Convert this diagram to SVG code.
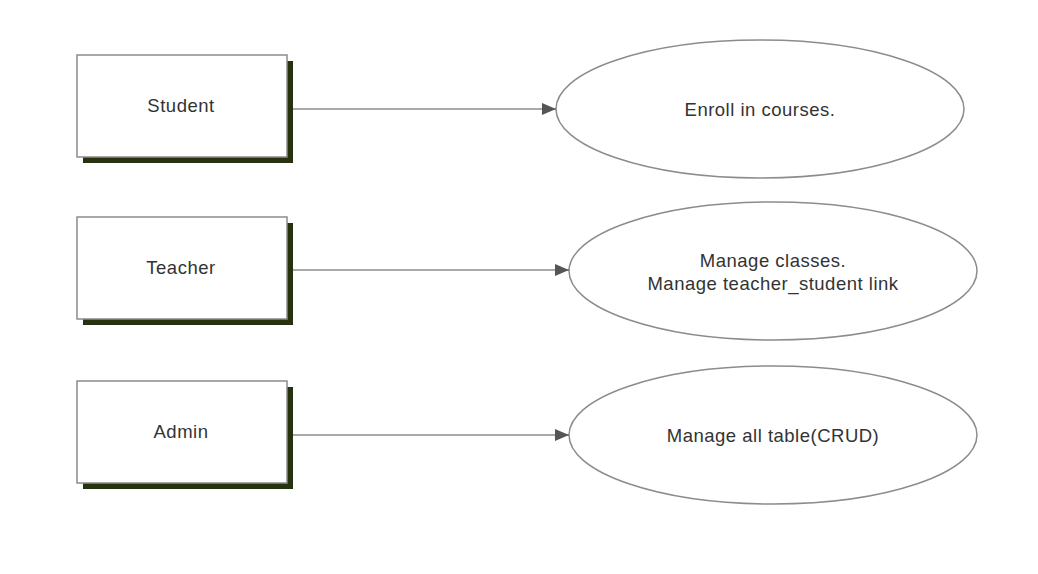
<svg xmlns="http://www.w3.org/2000/svg" width="1038" height="574" viewBox="0 0 1038 574">
<defs>
<style>
.shadow{fill:#263210;stroke:none}
.box{fill:#fff;stroke:#8c8c8c;stroke-width:1.5}
.ell{fill:#fff;stroke:#8c8c8c;stroke-width:1.5}
.lbl{font-family:"Liberation Sans",Arial,sans-serif;font-size:18.5px;letter-spacing:0.5px;fill:#333;text-anchor:middle}
.conn{stroke:#555;stroke-width:1.2;fill:none}
</style>
<marker id="arr" markerWidth="14" markerHeight="12" refX="14" refY="6" orient="auto" markerUnits="userSpaceOnUse">
<path d="M0,0 L14,6 L0,12 Z" fill="#555"/>
</marker>
</defs>
<rect width="1038" height="574" fill="#fff"/>
<g id="student">
<rect class="shadow" x="83" y="61" width="210" height="102"/>
<rect class="box" x="77" y="55" width="210" height="102"/>
<text class="lbl" x="181" y="112">Student</text>
</g>
<g id="teacher">
<rect class="shadow" x="83" y="223" width="210" height="102"/>
<rect class="box" x="77" y="217" width="210" height="102"/>
<text class="lbl" x="181" y="274">Teacher</text>
</g>
<g id="admin">
<rect class="shadow" x="83" y="387" width="210" height="102"/>
<rect class="box" x="77" y="381" width="210" height="102"/>
<text class="lbl" x="181" y="438">Admin</text>
</g>
<g id="enroll">
<ellipse class="ell" cx="760" cy="109" rx="204" ry="69"/>
<text class="lbl" x="760" y="116">Enroll in courses.</text>
</g>
<g id="manage-classes">
<ellipse class="ell" cx="773" cy="271" rx="204" ry="69"/>
<text class="lbl" x="773" y="267">Manage classes.</text>
<text class="lbl" x="773" y="290">Manage teacher_student link</text>
</g>
<g id="manage-all">
<ellipse class="ell" cx="773" cy="435" rx="204" ry="69"/>
<text class="lbl" x="773" y="442">Manage all table(CRUD)</text>
</g>
<g id="connectors">
<line class="conn" x1="293" y1="109" x2="556" y2="109" marker-end="url(#arr)"/>
<line class="conn" x1="293" y1="270" x2="569" y2="270" marker-end="url(#arr)"/>
<line class="conn" x1="293" y1="435" x2="569" y2="435" marker-end="url(#arr)"/>
</g>
</svg>
